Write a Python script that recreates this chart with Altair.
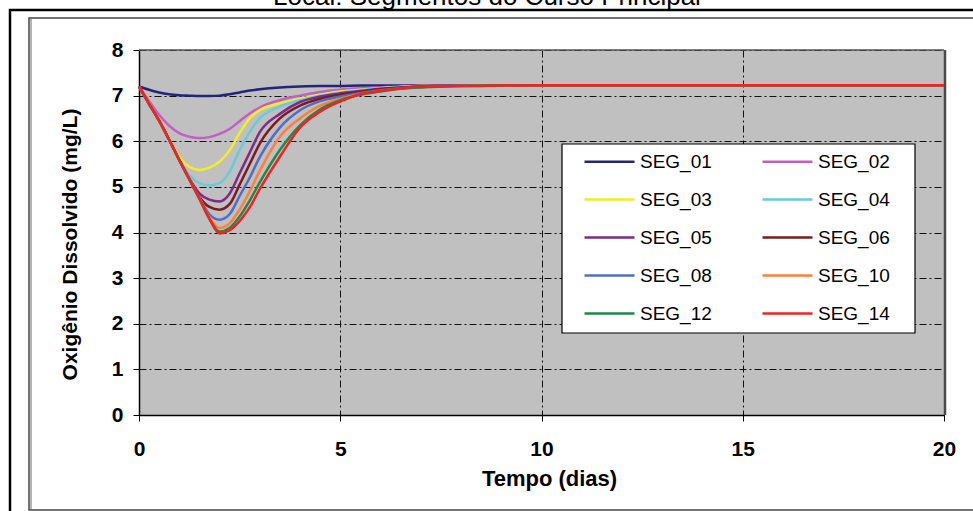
import altair as alt
import pandas as pd

# ---- data ----
tempo = [0, 0.25, 0.5, 0.75, 1.0, 1.25, 1.5, 1.75, 2.0, 2.25, 2.5, 2.75, 3.0,
         3.5, 4.0, 4.5, 5.0, 5.5, 6.0, 6.5, 7.0, 8.0, 10.0, 12.0, 15.0, 20.0]

seg_01 = [7.20, 7.13, 7.07, 7.03, 7.01, 7.00, 6.99, 6.99, 7.00, 7.03, 7.07, 7.11, 7.14,
          7.18, 7.20, 7.21, 7.21, 7.22, 7.22, 7.22, 7.22, 7.23, 7.23, 7.23, 7.23, 7.23]
seg_02 = [7.20, 6.88, 6.58, 6.34, 6.18, 6.10, 6.07, 6.09, 6.16, 6.27, 6.44, 6.61, 6.74,
          6.90, 7.00, 7.08, 7.13, 7.16, 7.18, 7.20, 7.21, 7.22, 7.23, 7.23, 7.23, 7.23]
seg_03 = [7.20, 6.82, 6.45, 6.04, 5.66, 5.44, 5.37, 5.42, 5.55, 5.80, 6.18, 6.50, 6.68,
          6.83, 6.93, 7.02, 7.09, 7.13, 7.16, 7.19, 7.21, 7.22, 7.23, 7.23, 7.23, 7.23]
seg_04 = [7.20, 6.82, 6.45, 6.03, 5.60, 5.26, 5.08, 5.03, 5.08, 5.33, 5.80, 6.20, 6.50,
          6.76, 6.90, 7.00, 7.07, 7.12, 7.16, 7.19, 7.20, 7.22, 7.23, 7.23, 7.23, 7.23]
seg_05 = [7.20, 6.82, 6.45, 6.03, 5.59, 5.18, 4.86, 4.72, 4.68, 4.85, 5.30, 5.75, 6.20,
          6.60, 6.86, 6.98, 7.05, 7.10, 7.15, 7.18, 7.20, 7.22, 7.23, 7.23, 7.23, 7.23]
seg_06 = [7.20, 6.82, 6.45, 6.03, 5.59, 5.17, 4.78, 4.56, 4.50, 4.62, 5.05, 5.50, 5.95,
          6.50, 6.78, 6.93, 7.02, 7.08, 7.14, 7.17, 7.20, 7.22, 7.23, 7.23, 7.23, 7.23]
seg_08 = [7.20, 6.82, 6.45, 6.03, 5.59, 5.17, 4.76, 4.40, 4.28, 4.40, 4.80, 5.20, 5.65,
          6.30, 6.68, 6.88, 6.98, 7.06, 7.12, 7.16, 7.19, 7.22, 7.23, 7.23, 7.23, 7.23]
seg_10 = [7.20, 6.82, 6.45, 6.03, 5.59, 5.17, 4.75, 4.33, 4.10, 4.20, 4.50, 4.90, 5.35,
          6.10, 6.50, 6.78, 6.93, 7.03, 7.10, 7.15, 7.18, 7.21, 7.23, 7.23, 7.23, 7.23]
seg_12 = [7.20, 6.82, 6.45, 6.03, 5.59, 5.17, 4.74, 4.30, 4.02, 4.10, 4.35, 4.70, 5.10,
          5.81, 6.35, 6.70, 6.90, 7.02, 7.09, 7.15, 7.18, 7.21, 7.23, 7.23, 7.23, 7.23]
seg_14 = [7.20, 6.82, 6.45, 6.03, 5.59, 5.17, 4.74, 4.30, 3.98, 4.05, 4.25, 4.55, 4.95,
          5.66, 6.30, 6.65, 6.87, 7.03, 7.10, 7.16, 7.20, 7.21, 7.23, 7.23, 7.23, 7.23]

series_names = ["SEG_01", "SEG_02", "SEG_03", "SEG_04", "SEG_05",
                "SEG_06", "SEG_08", "SEG_10", "SEG_12", "SEG_14"]
series_values = [seg_01, seg_02, seg_03, seg_04, seg_05,
                 seg_06, seg_08, seg_10, seg_12, seg_14]
series_colors = ["#24247a", "#c45ec4", "#f2ee22", "#66cbdc", "#7e2a8a",
                 "#7a1c1c", "#4f6ec4", "#ff7f3a", "#1f8a48", "#f52020"]

x_ticks = [0, 5, 10, 15, 20]
y_ticks = [0, 1, 2, 3, 4, 5, 6, 7, 8]

title_text = "Local: Segmentos do Curso Principal"
x_title = "Tempo (dias)"
y_title = "Oxigênio Dissolvido (mg/L)"

rows = []
for name, vals in zip(series_names, series_values):
    for t, v in zip(tempo, vals):
        rows.append({"Tempo": t, "OD": v, "Serie": name})
df = pd.DataFrame(rows)

one = pd.DataFrame({"k": [0]})

W, H = 805, 365
FONT = "Liberation Sans"

x_enc = alt.X(
    "Tempo:Q",
    scale=alt.Scale(domain=[0, 20], nice=False),
    axis=alt.Axis(
        values=x_ticks, title=x_title, format="d", labelFlush=False,
        labelFont=FONT, labelFontSize=21, labelFontWeight="bold", labelColor="black",
        labelPadding=17, tickSize=6, tickColor="black", domainColor="black", domainWidth=1.5,
        grid=True, gridColor="#111111", gridDash=[7, 3, 2, 3], gridWidth=1,
        titleFont=FONT, titleFontSize=22, titleFontWeight="bold", titleColor="black",
        titleX=410, titleY=70, titleBaseline="alphabetic", titleAlign="center",
    ),
)
y_enc = alt.Y(
    "OD:Q",
    scale=alt.Scale(domain=[0, 8], nice=False),
    axis=alt.Axis(
        values=y_ticks, title=y_title, format="d", labelFlush=False,
        labelFont=FONT, labelFontSize=21, labelFontWeight="bold", labelColor="black",
        labelPadding=10, tickSize=6, tickColor="black", domainColor="black", domainWidth=1.5,
        grid=True, gridColor="#111111", gridDash=[7, 3, 2, 3], gridWidth=1,
        titleFont=FONT, titleFontSize=21, titleFontWeight="bold", titleColor="black",
        titleX=-69, titleY=194, titleAngle=270, titleBaseline="middle", titleAlign="center",
    ),
)

lines = alt.Chart(df).mark_line(strokeWidth=2.5, interpolate="monotone").encode(
    x=x_enc,
    y=y_enc,
    color=alt.Color(
        "Serie:N",
        scale=alt.Scale(domain=series_names, range=series_colors),
        legend=alt.Legend(
            title=None, orient="none", legendX=444, legendY=85, columns=2,
            direction="horizontal",
            symbolType="stroke", symbolSize=2500, symbolStrokeWidth=2.5,
            labelFont=FONT, labelFontSize=19, labelColor="black", labelOffset=4,
            rowPadding=1, columnPadding=45, padding=0,
        ),
    ),
    order=alt.Order("Serie:N"),
)

# frame decorations (outer black border, inner double border)
outer = alt.Chart(one).mark_rect(fill="transparent", stroke="black", strokeWidth=2.5).encode(
    x=alt.value(-129), x2=alt.value(900), y=alt.value(-40), y2=alt.value(520))
inner = alt.Chart(one).mark_rect(fill="transparent", stroke="#444444", strokeWidth=1.5).encode(
    x=alt.value(-110), x2=alt.value(900), y=alt.value(-32), y2=alt.value(460))
inner2 = alt.Chart(one).mark_rule(stroke="#9a9a9a", strokeWidth=1.5).encode(
    x=alt.value(-108), y=alt.value(-31), y2=alt.value(459))

title = alt.Chart(one).mark_text(
    text=title_text, font=FONT, fontSize=26, color="black",
    align="center", baseline="alphabetic").encode(x=alt.value(348), y=alt.value(-45.5))

# plot area top / right border
top_border = alt.Chart(one).mark_rule(stroke="#555555", strokeWidth=1.5).encode(
    x=alt.value(0), x2=alt.value(W), y=alt.value(0))
right_border = alt.Chart(one).mark_rule(stroke="#4a4a4a", strokeWidth=2.5).encode(
    x=alt.value(W + 1), y=alt.value(0), y2=alt.value(H))

legend_box = alt.Chart(one).mark_rect(fill="white", stroke="black", strokeWidth=1.2).encode(
    x=alt.value(423), x2=alt.value(776), y=alt.value(94), y2=alt.value(283))

chart = alt.layer(
    outer, inner, inner2, title, top_border, right_border, legend_box, lines
).properties(
    width=W, height=H,
    autosize=alt.AutoSizeParams(type="none"),
    padding={"left": 139, "top": 50, "right": 29, "bottom": 96},
    background="white",
).configure_view(
    fill="#c0c0c0", stroke=None,
)

chart.save("out.html", embed_options={"renderer": "svg", "actions": False})
